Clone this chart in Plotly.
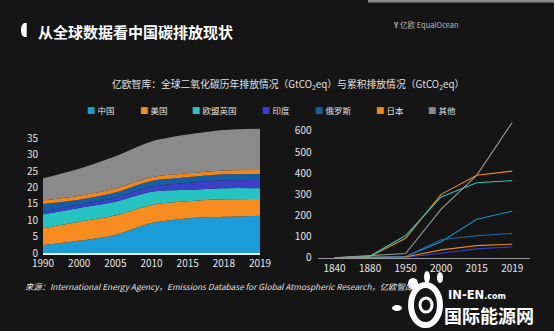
import plotly.graph_objects as go

# ---------------- data ----------------
series_names = ["中国", "美国", "欧盟英国", "印度", "俄罗斯", "日本", "其他"]
series_colors = ["#1b9bd7", "#f68b1f", "#27c3c3", "#3d3fc6", "#145ea4", "#f2861e", "#8a8a8a"]
line_colors = ["#1f8fd0", "#f08a24", "#2ec4b6", "#3b3bc0", "#1a6aa8", "#e8832a", "#9a9a9a"]

annual_years = ["1990", "2000", "2005", "2010", "2015", "2018", "2019"]
annual_china = [2.5, 3.8, 5.6, 9.2, 10.6, 11.1, 11.4]
annual_usa = [5.1, 5.8, 5.9, 5.5, 5.2, 5.3, 5.1]
annual_eu = [4.3, 4.2, 4.2, 4.0, 3.5, 3.4, 3.3]
annual_india = [0.7, 1.0, 1.2, 1.6, 2.1, 2.4, 2.5]
annual_russia = [2.4, 1.5, 1.6, 1.7, 1.7, 1.8, 1.8]
annual_japan = [1.1, 1.2, 1.2, 1.1, 1.2, 1.2, 1.2]
annual_other = [6.7, 8.2, 9.8, 10.9, 11.8, 12.3, 12.6]

cum_years = ["1840", "1880", "1950", "2000", "2015", "2019"]
cum_china = [0, 1, 5, 76, 182, 220]
cum_usa = [0, 6, 92, 300, 390, 410]
cum_eu = [0, 8, 105, 288, 355, 365]
cum_india = [0, 0, 2, 21, 42, 52]
cum_russia = [0, 1, 6, 85, 104, 115]
cum_japan = [0, 0, 3, 37, 57, 64]
cum_other = [0, 9, 20, 230, 390, 640]

left_ticks = [0, 5, 10, 15, 20, 25, 30, 35]
right_ticks = [0, 100, 200, 300, 400, 500, 600]

annual = [annual_china, annual_usa, annual_eu, annual_india, annual_russia, annual_japan, annual_other]
cumul = [cum_china, cum_usa, cum_eu, cum_india, cum_russia, cum_japan, cum_other]

W, H = 554, 331
FONT = "Noto Sans CJK SC"

def px(x):
    return x / W

def py(y):
    return 1 - y / H

fig = go.Figure()

for name, col, vals in zip(series_names, series_colors, annual):
    fig.add_trace(go.Scatter(
        x=annual_years, y=vals, name=name, stackgroup="a",
        mode="none", fillcolor=col,
        line=dict(shape="spline", smoothing=0.8, width=0),
        xaxis="x", yaxis="y", showlegend=False))

for name, col, vals in zip(series_names, line_colors, cumul):
    fig.add_trace(go.Scatter(
        x=cum_years, y=vals, name=name, mode="lines",
        line=dict(color=col, width=1.1),
        xaxis="x2", yaxis="y2", showlegend=False))

tickfont = dict(family=FONT, size=10, color="#e6e6e6")

fig.update_layout(
    width=W, height=H,
    margin=dict(l=0, r=0, t=0, b=0, autoexpand=False),
    paper_bgcolor="#151515", plot_bgcolor="rgba(0,0,0,0)",
    font=dict(family=FONT),
    xaxis=dict(domain=[px(43), px(260)], type="category", range=[0, 6],
               showgrid=False, zeroline=False, showline=True, automargin=False,
               linecolor="#f0f0f0", linewidth=1.5, ticks="",
               tickfont=tickfont, anchor="y", ticklabelstandoff=0),
    yaxis=dict(domain=[py(253.3), py(128.3)], range=[0, 38], tickvals=left_ticks,
               showgrid=False, zeroline=False, showline=False, automargin=False,
               tickfont=tickfont, anchor="x", ticklabelstandoff=4),
    xaxis2=dict(domain=[px(317.5), px(530)], type="category", range=[-0.48, 5.5],
                showgrid=False, zeroline=False, showline=True, automargin=False,
                linecolor="#9a9a9a", linewidth=1, ticks="",
                tickfont=tickfont, anchor="y2", ticklabelstandoff=1),
    yaxis2=dict(domain=[py(257.7), py(120.4)], range=[0, 650], tickvals=right_ticks,
                showgrid=False, zeroline=False, showline=False, automargin=False,
                tickfont=tickfont, anchor="x2", ticklabelstandoff=5),
)

ann = []
# title
ann.append(dict(x=px(36), y=py(31.5), xref="paper", yref="paper", xanchor="left", yanchor="middle",
                text="<b>从全球数据看中国碳排放现状</b>", showarrow=False,
                font=dict(family=FONT, size=15, color="#ffffff")))
# logo
ann.append(dict(x=px(391), y=py(24), xref="paper", yref="paper", xanchor="left", yanchor="middle",
                text="<b>Y</b> 亿欧 EqualOcean", showarrow=False,
                font=dict(family=FONT, size=7.5, color="#b8b8b8")))
# subtitle
ann.append(dict(x=px(288), y=py(84), xref="paper", yref="paper", xanchor="center", yanchor="middle",
                text="亿欧智库：全球二氧化碳历年排放情况（GtCO<sub>2</sub>eq）与累积排放情况（GtCO<sub>2</sub>eq）",
                showarrow=False, font=dict(family=FONT, size=9.8, color="#e0e0e0")))
# legend
legend_x = [85, 138, 190, 260, 313, 374, 426]
for name, col, lx in zip(series_names, series_colors, legend_x):
    ann.append(dict(x=px(lx), y=py(109.5), xref="paper", yref="paper", xanchor="left", yanchor="middle",
                    text=f"<span style='color:{col}'>■</span> {name}", showarrow=False,
                    font=dict(family=FONT, size=8.5, color="#e0e0e0")))
# source
ann.append(dict(x=px(23), y=py(286), xref="paper", yref="paper", xanchor="left", yanchor="middle",
                text="<i>来源：International Energy Agency，Emissions Database for Global Atmospheric Research，亿欧智库</i>",
                showarrow=False, font=dict(family=FONT, size=8.3, color="#e0e0e0")))
# watermark
ann.append(dict(x=px(446), y=py(295), xref="paper", yref="paper", xanchor="left", yanchor="middle",
                text="<b>IN-EN</b><b style='font-size:8px'>.com</b>", showarrow=False,
                font=dict(family="DejaVu Sans", size=11.5, color="#ffffff")))
ann.append(dict(x=px(442), y=py(315), xref="paper", yref="paper", xanchor="left", yanchor="middle",
                text="<b>国际能源网</b>", showarrow=False,
                font=dict(family=FONT, size=18, color="#ffffff")))
fig.update_layout(annotations=ann)

shapes = [
    # title marker
    dict(type="path", xref="paper", yref="paper",
         path=(f"M {px(26.7)} {py(23)} L {px(24.2)} {py(23)} Q {px(21)} {py(24.5)} {px(21)} {py(30)} "
               f"Q {px(21)} {py(35.5)} {px(24.2)} {py(37)} L {px(26.7)} {py(37)} Z"),
         fillcolor="#ffffff", line=dict(width=0)),
    # top light strip
    dict(type="rect", xref="paper", yref="paper", x0=px(368), x1=1, y0=py(2.5), y1=1,
         fillcolor="#bdbdbd", line=dict(width=0), opacity=0.7),
    # watermark swirl
    dict(type="circle", xref="paper", yref="paper", x0=px(411), x1=px(440), y0=py(325), y1=py(285),
         line=dict(color="#ffffff", width=6), fillcolor="rgba(0,0,0,0)"),
    dict(type="circle", xref="paper", yref="paper", x0=px(420), x1=px(432), y0=py(312), y1=py(298),
         line=dict(color="#ffffff", width=3), fillcolor="rgba(0,0,0,0)"),
    # leaves
    dict(type="circle", xref="paper", yref="paper", x0=px(408), x1=px(418), y0=py(289), y1=py(278),
         fillcolor="#ffffff", line=dict(width=0)),
    dict(type="circle", xref="paper", yref="paper", x0=px(424), x1=px(430), y0=py(283), y1=py(271),
         fillcolor="#ffffff", line=dict(width=0)),
    dict(type="circle", xref="paper", yref="paper", x0=px(437), x1=px(443), y0=py(283), y1=py(272),
         fillcolor="#ffffff", line=dict(width=0)),
    dict(type="circle", xref="paper", yref="paper", x0=px(392), x1=px(402), y0=py(311), y1=py(305),
         fillcolor="#ffffff", line=dict(width=0)),
]
fig.update_layout(shapes=shapes)

fig.write_html("out.html")
